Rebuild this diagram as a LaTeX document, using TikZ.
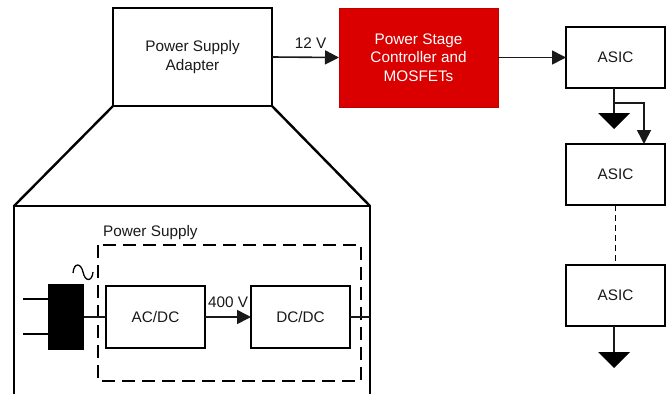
\documentclass[tikz,border=0pt]{standalone}
\usepackage{fontspec}
\setmainfont{Liberation Sans}
\usetikzlibrary{arrows.meta}
\tikzset{
  blockbox/.style={draw=black,line width=2.4pt,fill=white,inner sep=0pt,outer sep=0pt,align=center,font=\fontsize{15.3}{18.5}\selectfont,text=black!90},
  labeltext/.style={inner sep=0pt,font=\fontsize{15.3}{18}\selectfont,text=black!90},
  conn/.style={line width=1.6pt,draw=black!90},
  arrowconn/.style={conn,-{Triangle[length=14pt,width=14pt]}},
  groundtri/.style={fill=black,draw=none},
  heavy/.style={line width=2.4pt,draw=black,line join=miter},
}
\begin{document}
\begin{tikzpicture}[x=1pt,y=-1pt]
\useasboundingbox (0,0) rectangle (668,394);
% Zoom-out housing
\coordinate (hTL) at (14,206);
\coordinate (hTR) at (370,206);
\coordinate (hBL) at (14,394);
\coordinate (hBR) at (370,394);
\draw[heavy] (hBL) -- (hTL) -- (hTR) -- (hBR);
% Blocks
\node[blockbox,minimum width=159pt,minimum height=98pt] (adapter) at (192.5,57) {Power Supply\\Adapter};
\node[blockbox,draw=red!75!black,line width=1pt,fill=red!86!black,text=white,minimum width=159pt,minimum height=99pt] (stage) at (418.5,57.5) {Power Stage\\Controller and\\MOSFETs};
\node[blockbox,minimum width=99pt,minimum height=61pt] (asicA) at (615.5,57.5) {ASIC};
\node[blockbox,minimum width=99pt,minimum height=61pt] (asicB) at (615.5,174.5) {ASIC};
\node[blockbox,minimum width=99pt,minimum height=61pt] (asicC) at (615.5,295.5) {ASIC};
\node[blockbox,minimum width=99pt,minimum height=62pt] (acdc) at (155.5,317) {AC/DC};
\node[blockbox,minimum width=99pt,minimum height=62pt] (dcdc) at (300.5,317) {DC/DC};
% Funnel lines
\draw[heavy] (adapter.south west) -- (hTL);
\draw[heavy] (adapter.south east) -- (hTR);
% Dashed Power Supply outline
\coordinate (dTL) at (98,245);
\coordinate (dBR) at (361,381);
\draw[line width=2.4pt,dash pattern=on 13pt off 7pt] (dTL) rectangle (dBR);
\node[labeltext,anchor=west] (pslabel) at (103,233) {Power Supply};
% Plug
\node[fill=black,draw=none,inner sep=0pt,outer sep=0pt,minimum width=36pt,minimum height=66pt] (plug) at (66,317) {};
\coordinate (prongA) at (23,299);
\coordinate (prongB) at (23,334);
\draw[line width=2.6pt] (prongA) -- (prongA -| plug.west);
\draw[line width=2.6pt] (prongB) -- (prongB -| plug.west);
\draw[conn] (plug.east) -- (acdc.west);
% AC tilde
\coordinate (tildeA) at (73,273);
\coordinate (tildeB) at (93,272);
\draw[line width=1.3pt] (tildeA) .. controls (74,262) and (81,263) .. (83,272) .. controls (85,282) and (92,282) .. (tildeB);
% Inner connectors
\draw[arrowconn] (acdc.east) -- (dcdc.west);
\node[labeltext,anchor=center] (v400) at (228,302) {400 V};
\coordinate (outR) at (370,317);
\draw[conn] (dcdc.east) -- (outR);
% Top connectors
\draw[arrowconn] (adapter.east) -- (stage.west);
\node[labeltext,anchor=center] (v12) at (310.5,43) {12 V};
\draw[arrowconn] (stage.east) -- (asicA.west);
% ASIC A branches
\coordinate (gA) at (614,113);
\coordinate (branch) at (614,103);
\draw[conn] (gA |- asicA.south) -- (gA);
\fill[groundtri] (598,113) -- (630,113) -- (614,129) -- cycle;
\coordinate (feedEnd) at (644,144);
\draw[arrowconn] (branch) -- (644,103) -- (feedEnd);
% Dashed ASIC link
\coordinate (linkTop) at (615.5,205);
\draw[line width=1.6pt,dash pattern=on 6pt off 4pt] (linkTop) -- (asicC.north);
% ASIC C ground
\coordinate (gC) at (614,352);
\draw[conn] (gC |- asicC.south) -- (gC);
\fill[groundtri] (598,352) -- (630,352) -- (614,368) -- cycle;
\end{tikzpicture}
\end{document}
